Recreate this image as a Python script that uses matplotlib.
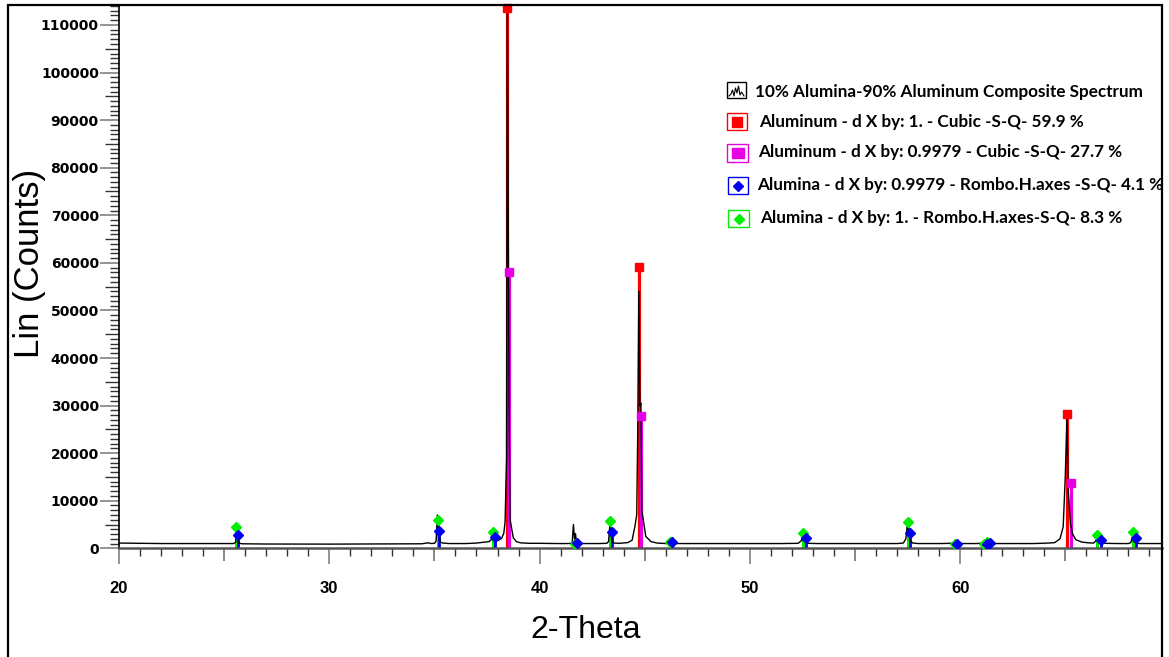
import matplotlib
matplotlib.use("Agg")
import matplotlib.pyplot as plt
from matplotlib.ticker import MultipleLocator, FixedLocator, NullFormatter
from matplotlib.lines import Line2D
from matplotlib.patches import Rectangle

# ---------------- data ----------------
two_theta = [20.0, 21.0, 22.0, 23.0, 24.0, 25.0, 25.45, 25.55, 25.60, 25.64, 25.70, 25.85,
             27.0, 28.5, 30.0, 31.5, 33.0, 34.4, 34.7, 34.85, 35.0, 35.08, 35.14, 35.20, 35.28, 35.4, 35.7,
             36.5, 37.0, 37.4, 37.6, 37.72, 37.78, 37.84, 37.92, 38.05, 38.2, 38.3, 38.36, 38.43, 38.47,
             38.55, 38.60, 38.66, 38.75, 38.9, 39.1, 39.5,
             40.0, 40.8, 41.4, 41.55, 41.61, 41.67, 41.71, 41.75, 41.82, 42.0, 42.8, 43.2, 43.28, 43.34,
             43.40, 43.46, 43.55, 43.8,
             44.2, 44.4, 44.53, 44.62, 44.67, 44.72, 44.77, 44.82, 44.86, 44.95, 45.05, 45.3, 45.6,
             46.0, 46.12, 46.2, 46.3, 46.5,
             47.5, 49.0, 50.5, 51.5, 52.3, 52.45, 52.53, 52.58, 52.66, 52.8, 53.2,
             54.5, 56.0, 57.0, 57.3, 57.42, 57.5, 57.56, 57.64, 57.75, 58.0, 59.0, 59.6, 59.72, 59.82, 60.0,
             60.8, 61.05, 61.15, 61.28, 61.4, 61.6, 62.5, 63.5, 64.2, 64.5, 64.75, 64.9, 65.0, 65.08,
             65.14, 65.2, 65.25, 65.35, 65.5, 65.8, 66.1,
             66.35, 66.46, 66.52, 66.58, 66.7, 66.9, 67.5, 68.0, 68.12, 68.2, 68.26, 68.35, 68.5, 69.0, 69.6]
counts = [1100, 1050, 1000, 1000, 980, 980, 1000, 1300, 5000, 2500, 1100, 950,
          900, 880, 880, 900, 900, 950, 1150, 1000, 1050, 1500, 7000, 3500, 1300, 1100, 1000,
          1000, 1100, 1300, 1400, 1900, 2400, 1800, 1600, 1700, 2100, 3200, 5500, 19000, 114500,
          29000, 6000, 4500, 2200, 1400, 1150, 1050,
          1050, 1000, 1000, 1100, 5000, 1500, 3100, 1300, 1100, 1000, 1000, 1050, 1400, 4700,
          2600, 1400, 1100, 1050,
          1200, 1700, 4500, 7000, 25000, 54000, 30000, 30500, 8000, 5500, 2500, 1400, 1100,
          1000, 1100, 1400, 1100, 1000,
          1000, 980, 1000, 1000, 1050, 1600, 3300, 1600, 1200, 1050, 1000,
          1000, 1000, 1000, 1100, 2000, 5500, 3000, 1500, 1100, 1000, 1000, 1050, 1300, 1100, 1000,
          1000, 1100, 1300, 1400, 1200, 1000, 1000, 1000, 1100, 1200, 2000, 4500, 15000, 27500,
          12000, 8000, 5000, 3000, 1800, 1300, 1150,
          1100, 1600, 2600, 1500, 1200, 1050, 1000, 1000, 1200, 2500, 1400, 1200, 1000, 1000, 1000]

al1_pos = [38.47, 44.72, 65.10]
al1_int = [113600, 59200, 28200]
al2_pos = [38.555, 44.82, 65.25]
al2_int = [58000, 27800, 13800]

alo1_pos = [25.58, 35.15, 37.78, 41.68, 43.36, 46.18, 52.55, 57.50, 59.74, 61.12, 61.30, 66.52, 68.21]
alo1_int = [4400, 5900, 3400, 1000, 5700, 1300, 3300, 5500, 1000, 1000, 1400, 2700, 3500]
alo2_pos = [25.64, 35.23, 37.86, 41.77, 43.45, 46.28, 52.66, 57.62, 59.87, 61.26, 61.44, 66.68, 68.38]
alo2_int = [2750, 3600, 2300, 1100, 3400, 1300, 2100, 3200, 1000, 1000, 1200, 1700, 2200]

legend_labels = ["10% Alumina-90% Aluminum Composite Spectrum",
                 "Aluminum - d X by: 1. - Cubic -S-Q- 59.9 %",
                 "Aluminum - d X by: 0.9979 - Cubic -S-Q- 27.7 %",
                 "Alumina - d X by: 0.9979 - Rombo.H.axes -S-Q- 4.1 %",
                 "Alumina - d X by: 1. - Rombo.H.axes-S-Q- 8.3 %"]

RED, MAG, BLUE, GREEN = "#ff0000", "#e600e6", "#0000ee", "#00ee00"

# ---------------- figure ----------------
W, H = 1169, 657
fig = plt.figure(figsize=(W / 100, H / 100), dpi=100)
fx = lambda px: px / W
fy = lambda py: 1 - py / H

ax_l, ax_r, ax_t, ax_b = 119, 1162, 5, 548.3
ax = fig.add_axes([fx(ax_l), fy(ax_b), fx(ax_r - ax_l), (ax_b - ax_t) / H])
ax.set_xlim(20, 69.6)
ax.set_ylim(0, 114200)

# sticks
ax.vlines(al1_pos, 0, al1_int, colors=RED, lw=2.3, zorder=2)
ax.vlines(al2_pos, 0, al2_int, colors=MAG, lw=2.3, zorder=2)
ax.vlines(alo1_pos, 0, alo1_int, colors=GREEN, lw=2.2, zorder=2)
ax.vlines(alo2_pos, 0, alo2_int, colors=BLUE, lw=2.0, zorder=2)

# spectrum
ax.plot(two_theta, counts, color="black", lw=1.0, zorder=3)

# markers
ax.plot(al1_pos, al1_int, "s", color=RED, ms=6, zorder=4, clip_on=False)
ax.plot(al2_pos, al2_int, "s", color=MAG, ms=6, zorder=4)
ax.plot(alo1_pos, alo1_int, "D", color=GREEN, ms=5.2, zorder=4)
ax.plot(alo2_pos, alo2_int, "D", color=BLUE, ms=5.2, zorder=4)

# spines
for s in ["top", "right"]:
    ax.spines[s].set_visible(False)
ax.spines["left"].set_color("black")
ax.spines["left"].set_linewidth(1.2)
ax.spines["bottom"].set_color("#555555")
ax.spines["bottom"].set_linewidth(1.8)

# ticks
ax.xaxis.set_major_locator(MultipleLocator(10))
ax.xaxis.set_minor_locator(FixedLocator([v for v in range(20, 70) if v % 5 != 0]))
ax.yaxis.set_major_locator(MultipleLocator(10000))
ax.yaxis.set_minor_locator(FixedLocator([v for v in range(0, 114001, 1000) if v % 5000 != 0]))
ax.yaxis.set_major_formatter(matplotlib.ticker.FuncFormatter(lambda v, p: f"{int(v)}"))

ax.tick_params(axis="x", which="major", direction="out", length=11.5, width=1.1,
               color="#777777", pad=12, labelsize=12)
ax.tick_params(axis="x", which="minor", direction="out", length=6, width=1.0, color="#333333")
ax.tick_params(axis="y", which="major", direction="out", length=13.5, width=1.1,
               color="#777777", pad=1, labelsize=10)
ax.tick_params(axis="y", which="minor", direction="out", length=6.5, width=1.0, color="#333333")

for lab in ax.get_xticklabels():
    lab.set_fontfamily("Liberation Sans")
    lab.set_fontweight("bold")
for lab in ax.get_yticklabels():
    lab.set_fontfamily("DejaVu Sans")
    lab.set_fontweight("bold")

# medium ticks at multiples of 5
secx = ax.secondary_xaxis("bottom")
secx.xaxis.set_major_locator(FixedLocator([25, 35, 45, 55, 65]))
secx.xaxis.set_major_formatter(NullFormatter())
secx.tick_params(length=9.5, width=1.1, color="#666666")
secx.spines["bottom"].set_visible(False)
secy = ax.secondary_yaxis("left")
secy.yaxis.set_major_locator(FixedLocator(list(range(5000, 114000, 10000))))
secy.yaxis.set_major_formatter(NullFormatter())
secy.tick_params(length=10, width=1.0, color="#333333")
secy.spines["left"].set_visible(False)

# axis labels
fig.text(fx(30), fy(263), "Lin (Counts)", rotation=90, ha="center", va="center",
         fontsize=25, family="Liberation Sans")
fig.text(fx(586), fy(630), "2-Theta", ha="center", va="center",
         fontsize=23, family="Liberation Sans")

# outer frame
fig.add_artist(Rectangle((fx(8), fy(700)), fx(1162 - 8), (700 - 5) / H, fill=False,
                         ec="black", lw=1.6, transform=fig.transFigure))

# ---------------- legend ----------------
tf = fig.transFigure
lfont = dict(family="Lato", fontweight="bold", fontsize=12.3, va="center", ha="left")

def box(x0, y0, x1, y1, ec):
    fig.add_artist(Rectangle((fx(x0), fy(y1)), fx(x1 - x0), (y1 - y0) / H, fill=False,
                             ec=ec, lw=1.0, transform=tf))

box(727, 82, 746, 98, "black")
gx = [729, 731, 732.5, 734, 735.5, 737, 738.5, 740, 741.5, 744]
gy = [96, 94, 90, 96, 88, 93, 86, 95, 92, 96]
fig.add_artist(Line2D([fx(v) for v in gx], [fy(v) for v in gy], color="black", lw=0.8,
                      transform=tf))
fig.text(fx(755), fy(92.5), legend_labels[0], **lfont)

box(727, 113, 747, 130, RED)
fig.add_artist(Rectangle((fx(732), fy(126.5)), fx(9.5), 10 / H, color=RED, transform=tf))
fig.text(fx(759), fy(122.5), legend_labels[1], **lfont)

box(727, 144, 748, 161.5, MAG)
fig.add_artist(Rectangle((fx(732), fy(157.5)), fx(12), 9.5 / H, color=MAG, transform=tf))
fig.text(fx(758), fy(152), legend_labels[2], **lfont)

box(728, 177, 748, 194, BLUE)
fig.add_artist(Line2D([fx(738)], [fy(185.5)], marker="D", color=BLUE, ms=5.5, transform=tf))
fig.text(fx(757), fy(185), legend_labels[3], **lfont)

box(728, 210, 749, 227, GREEN)
fig.add_artist(Line2D([fx(739)], [fy(219)], marker="D", color=GREEN, ms=5.5, transform=tf))
fig.text(fx(760), fy(218.5), legend_labels[4], **lfont)

fig.savefig("out.png", dpi=100)
